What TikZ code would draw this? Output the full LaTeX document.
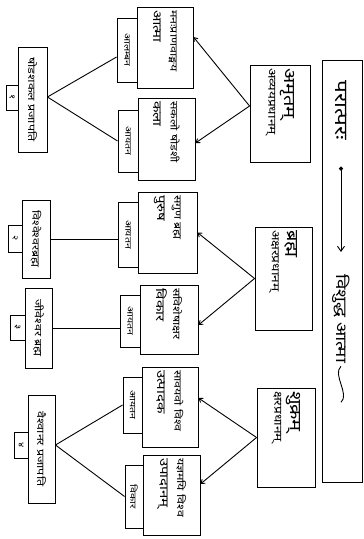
\documentclass[tikz,border=0pt]{standalone}
\usepackage{fontspec}
\setmainfont[Script=Devanagari]{Noto Sans}
\newfontfamily\devw[Script=Devanagari,FakeStretch=1.25]{Noto Sans}
\usetikzlibrary{arrows.meta,calc}
\newcommand{\fs}[1]{\fontsize{#1}{#1}\selectfont}
\begin{document}
\begin{tikzpicture}[x=1pt,y=-1pt,line width=0.9pt,
  vbox/.style={draw, rotate=-90, inner sep=2pt, align=left},
  plain/.style={rotate=-90, inner sep=0pt},
  link/.style={-{Straight Barb[length=3.5pt,width=5pt]}}]
\useasboundingbox (0,0) rectangle (364,539);
% main box
\node[vbox, minimum width=422pt, minimum height=40pt] (M) at (342,271) {};
\node[plain, anchor=west, font=\devw\fs{18}] (p1) at (341,80) {परात्परः};
\node[plain, anchor=west, font=\devw\fs{15}] (p2) at (341,274) {विशुद्ध आत्मा};
\draw[{Circle[length=4pt]}-{Straight Barb[length=5pt,width=7pt]}] ([yshift=-26pt]p1.east) -- ([yshift=22pt]p2.west);
\draw (p2.east) ++(0,3) .. controls +(-9,8) and +(9,-8) .. +(0,36);
% second column
\node[vbox, minimum width=97pt, minimum height=60pt, text width=91pt] (A) at (280,113.5)
  {{\devw\fs{16}अमृतम्}\\[4pt]{\devw\fs{11}अव्ययप्रधानम्}};
\node[vbox, minimum width=103pt, minimum height=57pt, text width=97pt] (B) at (283.5,278.5)
  {{\devw\fs{16}ब्रह्म}\\[4pt]{\devw\fs{11}अक्षरप्रधानम्}};
\node[vbox, minimum width=99pt, minimum height=58pt, text width=93pt] (C) at (286,437.5)
  {{\devw\fs{16}शुक्रम्}\\[4pt]{\devw\fs{11}क्षरप्रधानम्}};
% third column
\node[vbox, minimum width=81pt, minimum height=56pt, text width=75pt] (b1) at (165,47.5)
  {{\devw\fs{10}मनःप्राणवाङ्मय}\\[5pt]{\devw\fs{12}आत्मा}};
\node[vbox, minimum width=82pt, minimum height=57pt, text width=76pt] (b2) at (166.5,139)
  {{\devw\fs{10}सकलो षोडशी}\\[5pt]{\devw\fs{12}कला}};
\node[vbox, minimum width=81pt, minimum height=59pt, text width=75pt] (b3) at (167.5,232.5)
  {{\devw\fs{10}सगुण ब्रह्म}\\[5pt]{\devw\fs{12}पुरुष}};
\node[vbox, minimum width=69pt, minimum height=58pt, text width=63pt] (b4) at (169,319.5)
  {{\devw\fs{10}सविशेषाक्षर}\\[5pt]{\devw\fs{12}विकार}};
\node[vbox, minimum width=80pt, minimum height=56pt, text width=74pt] (b5) at (170,407)
  {{\devw\fs{10}सावयवो विश्व}\\[5pt]{\devw\fs{12}उत्पादक}};
\node[vbox, minimum width=80pt, minimum height=57pt, text width=74pt] (b6) at (171.5,495)
  {{\devw\fs{10}यज्ञमयि विश्व}\\[5pt]{\devw\fs{12}उपादानम्}};
% tabs
\node[vbox, minimum width=64pt, minimum height=20pt, inner sep=1pt, align=center, font=\devw\fs{8.5}] (t1) at (127,50) {आलम्बन};
\node[vbox, minimum width=62pt, minimum height=20pt, inner sep=1pt, align=center, font=\devw\fs{8.5}] (t2) at (128,141) {आयतन};
\node[vbox, minimum width=65pt, minimum height=20pt, inner sep=1pt, align=center, font=\devw\fs{8.5}] (t3) at (128,234.5) {आयतन};
\node[vbox, minimum width=52pt, minimum height=20pt, inner sep=1pt, align=center, font=\devw\fs{8.5}] (t4) at (130,321) {आयतन};
\node[vbox, minimum width=56pt, minimum height=19pt, inner sep=1pt, align=center, font=\devw\fs{8.5}] (t5) at (132.5,405) {आयतन};
\node[vbox, minimum width=63pt, minimum height=18pt, inner sep=1pt, align=center, font=\devw\fs{8.5}] (t6) at (134,496.5) {विकार};
% left column
\node[vbox, minimum width=105pt, minimum height=29pt, inner sep=1pt, align=center, font=\devw\fs{10}] (L1) at (32.5,99.5) {षोडशकल प्रजापति};
\node[vbox, minimum width=25pt, minimum height=12pt, inner sep=0pt, align=center, font=\devw\fs{8}] (n1) at (12,97.5) {१};
\node[vbox, minimum width=78pt, minimum height=28pt, inner sep=1pt, align=center, font=\devw\fs{10}] (L2) at (36,239) {विश्वेश्वरब्रह्म};
\node[vbox, minimum width=27pt, minimum height=14pt, inner sep=0pt, align=center, font=\devw\fs{8}] (n2) at (15,238.5) {२};
\node[vbox, minimum width=80pt, minimum height=27pt, inner sep=1pt, align=center, font=\devw\fs{10}] (L3) at (38.5,328) {जीवेश्वर ब्रह्म};
\node[vbox, minimum width=25pt, minimum height=15pt, inner sep=0pt, align=center, font=\devw\fs{8}] (n3) at (17.5,327.5) {३};
\node[vbox, minimum width=108pt, minimum height=27pt, inner sep=1pt, align=center, font=\devw\fs{10}] (L4) at (41.5,449) {वैश्वानर प्रजापति};
\node[vbox, minimum width=26pt, minimum height=14pt, inner sep=0pt, align=center, font=\devw\fs{8}] (n4) at (21,445) {४};
% connectors second -> third column
\draw[link] ([yshift=7.5pt]A.south) -- ([yshift=10.5pt]b1.north);
\draw[link] ([yshift=7.5pt]A.south) -- ([yshift=-4pt]b2.north);
\draw[link] (B.south) -- (b3.north);
\draw[link] (B.south) -- ([yshift=-5.5pt]b4.north);
\draw[link] (C.south) -- ([yshift=9pt]b5.north);
\draw[link] (C.south) -- ([yshift=11pt]b6.north);
% connectors tabs -> left column
\draw ([yshift=2.5pt]L1.north) -- ([yshift=-7pt]t1.south);
\draw ([yshift=2.5pt]L1.north) -- (t2.south);
\draw (L2.north) -- (L2.north -| t3.south);
\draw (L3.north) -- (L3.north -| t4.south);
\draw ([yshift=4pt]L4.north) -- (t5.south);
\draw ([yshift=4pt]L4.north) -- (t6.south);
\end{tikzpicture}
\end{document}
